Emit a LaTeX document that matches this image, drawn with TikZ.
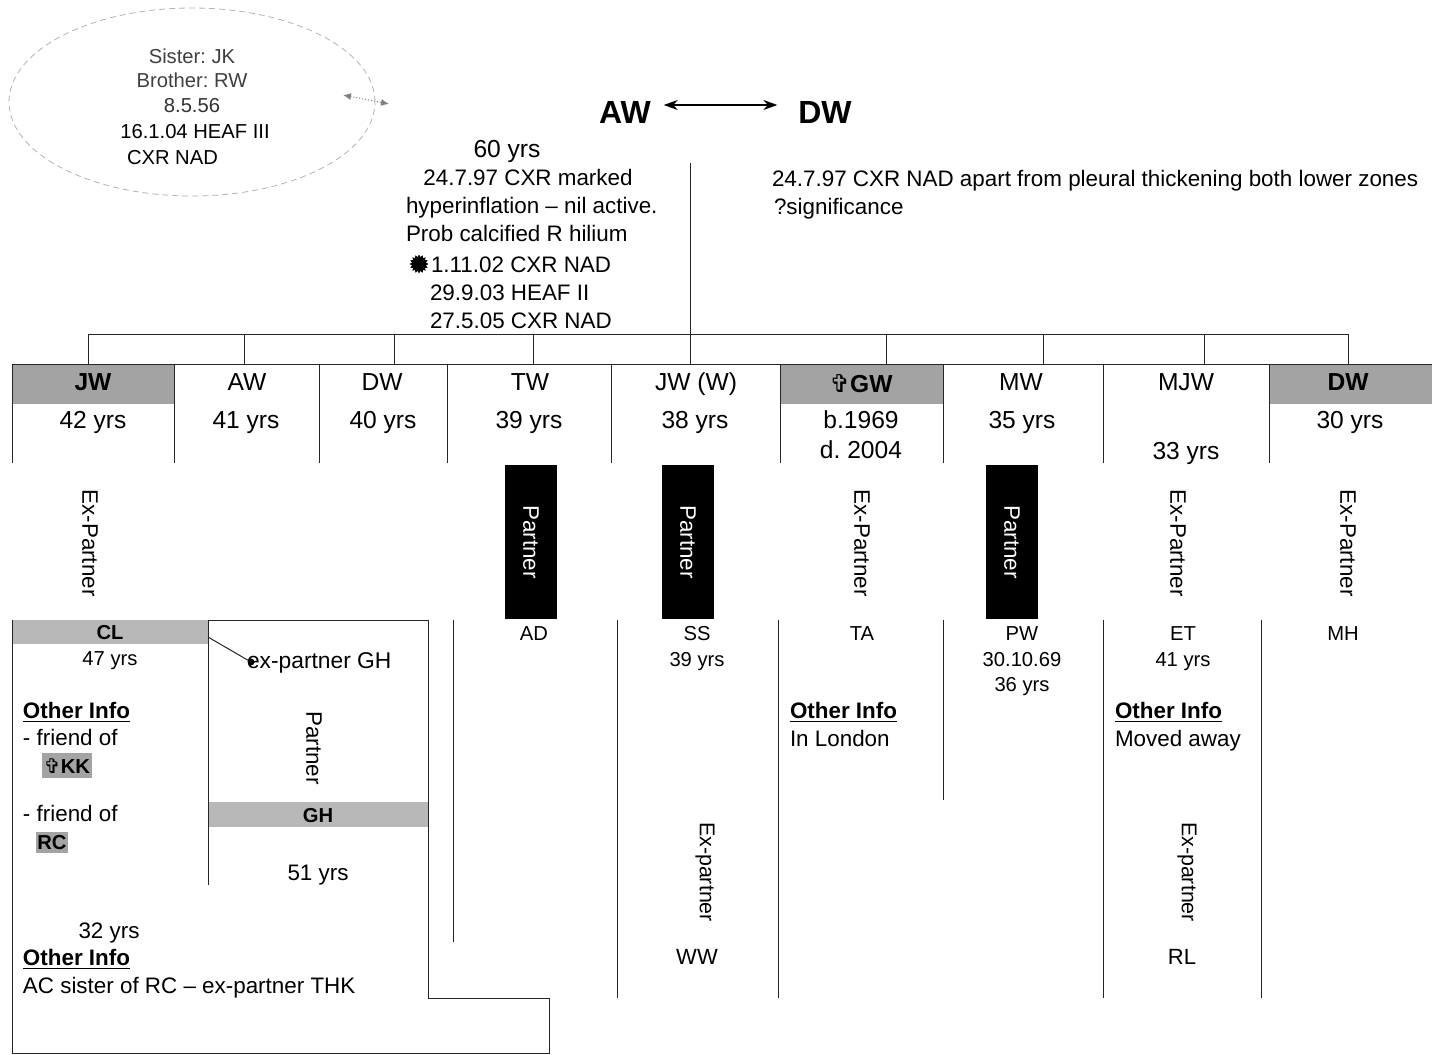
\documentclass[tikz,border=0pt]{standalone}
\usepackage{fontspec}
\setmainfont{Liberation Sans}
\newfontfamily\symfont{DejaVu Sans}
\usetikzlibrary{arrows.meta,shapes.geometric}
\frenchspacing
\newcommand\fHead{\fontsize{12.3}{14}\selectfont}
\newcommand\fBody{\fontsize{11.2}{13}\selectfont}
\newcommand\fSmall{\fontsize{10.1}{12}\selectfont}
\newcommand\fBig{\fontsize{16}{19}\selectfont\bfseries}
\newcommand\gcross{{\symfont\char"271E}}
\definecolor{shadeA}{gray}{0.64}
\definecolor{shadeB}{gray}{0.72}
\definecolor{lncol}{gray}{0.15}
\tikzset{
 every node/.style={inner sep=0pt, outer sep=0pt},
 t/.style={anchor=mid, font=\fBody, yshift=-1.5pt},
 tl/.style={anchor=mid west, font=\fBody, yshift=-1.5pt},
 hd/.style={anchor=mid, font=\fHead, yshift=-1.5pt},
 sm/.style={anchor=mid, font=\fSmall, yshift=-1.2pt},
 vt/.style={rotate=-90, anchor=center, font=\fBody},
 ln/.style={draw=lncol, line width=0.5pt},
 pbox/.style={fill=black, text=white, rotate=-90, minimum width=77pt, minimum height=26pt, font=\fBody},
 oi/.style={anchor=mid west, font=\fBody\bfseries, yshift=-1.5pt},
}
\begin{document}
\frenchspacing
\begin{tikzpicture}[x=0.5pt,y=-0.5pt]
\useasboundingbox (0,0) rectangle (1432,1055);

% ---------- ellipse (parents of AW)
\node[ellipse, draw=gray!60, densely dashed, line width=0.4pt, minimum width=183pt, minimum height=94pt] (ell) at (192,102) {};
\node[sm, text=black!75] (sis) at (192,56) {Sister: JK};
\node[sm, text=black!75] (bro) at (192,80) {Brother: RW};
\node[sm, text=black!80] (dob) at (192,105) {8.5.56};
\node[sm] (heafA) at (195,131) {16.1.04 HEAF III};
\node[sm, anchor=mid west] (cxrA) at (127,157) {CXR NAD};
\coordinate (sa1) at (343,95);
\coordinate (sa2) at (389,104);
\draw[gray, densely dotted, line width=0.5pt, {Latex[length=4pt,width=3.5pt]}-{Latex[length=4pt,width=3.5pt]}] (sa1) -- (sa2);

% ---------- parents
\node[font=\fBig] (AW) at (625,112) {AW};
\node[font=\fBig] (DW) at (825,112) {DW};
\draw[black, line width=0.8pt, {Stealth[length=7pt,width=5pt]}-{Stealth[length=7pt,width=5pt]}, shorten <=6.5pt, shorten >=10.5pt] ([yshift=3.5pt]AW.east) -- ([yshift=3.5pt]DW.west);

\node[font=\fHead, anchor=mid, yshift=-1.5pt] (age60) at (507,149) {60 yrs};
\node[t] (awa) at (528,177) {24.7.97 CXR marked};
\node[tl] (awb) at (406,205) {hyperinflation -- nil active.};
\node[tl] (awc) at (406,233) {Prob calcified R hilium};
\node[star, star points=16, star point ratio=1.35, fill=black, minimum size=9.5pt] (dot) at (419,264) {};
\node[tl] (awd) at (431,264) {1.11.02 CXR NAD};
\node[tl] (awe) at (430,292) {29.9.03 HEAF II};
\node[tl] (awf) at (430,320) {27.5.05 CXR NAD};

\node[tl] (dwa) at (772,178) {24.7.97 CXR NAD apart from pleural thickening both lower zones};
\node[tl] (dwb) at (774,206) {?significance};

% ---------- children row
\fill[shadeA] (12,365) rectangle (174,404);
\fill[shadeA] (780,365) rectangle (943,404);
\fill[shadeA] (1269,365) rectangle (1432,404);

\coordinate (vtop) at (690,163);
\coordinate (barL) at (88,334);
\coordinate (barR) at (1348,334);
\draw[ln] (barL) -- (barR);
\foreach \x/\n in {88/1,244/2,394/3,533/4,690/5,886/6,1043/7,1204/8,1348/9}{
  \coordinate (bar\n) at (\x,334);
  \coordinate (top\n) at (\x,364);
  \draw[ln] (bar\n) -- (top\n);
}
\draw[ln] (vtop) -- (top5);
\draw[ln] (12,364) -- (1432,364);
\foreach \x in {12,174,319,447,611,780,943,1103,1269}{
  \draw[ln] (\x,364) -- (\x,463);
}

\node[hd, font=\fHead\bfseries] (c1) at (93,382) {JW};
\node[hd] (c2) at (247,382) {AW};
\node[hd] (c3) at (382,382) {DW};
\node[hd] (c4) at (530,382) {TW};
\node[hd] (c5) at (696,382) {JW (W)};
\node[hd, font=\fHead\bfseries] (c6) at (861,384) {\gcross GW};
\node[hd] (c7) at (1021,382) {MW};
\node[hd] (c8) at (1186,382) {MJW};
\node[hd, font=\fHead\bfseries] (c9) at (1348,382) {DW};

\node[hd] (a1) at (93,420) {42 yrs};
\node[hd] (a2) at (246,420) {41 yrs};
\node[hd] (a3) at (383,420) {40 yrs};
\node[hd] (a4) at (529,420) {39 yrs};
\node[hd] (a5) at (695,420) {38 yrs};
\node[hd] (a6) at (861,420) {b.1969};
\node[hd] (a6b) at (861,450) {d. 2004};
\node[hd] (a7) at (1022,420) {35 yrs};
\node[hd] (a8) at (1186,451) {33 yrs};
\node[hd] (a9) at (1350,420) {30 yrs};

% ---------- relationship labels
\node[vt] (r1) at (90,543) {Ex-Partner};
\node[pbox] (p4) at (531,542) {Partner};
\node[pbox] (p5) at (688,542) {Partner};
\node[vt] (r6) at (862,543) {Ex-Partner};
\node[pbox] (p7) at (1012,542) {Partner};
\node[vt] (r8) at (1178,543) {Ex-Partner};
\node[vt] (r9) at (1348,543) {Ex-Partner};

% ---------- partners row
\draw[ln] (453,620) -- (453,942);
\draw[ln] (617,620) -- (617,998);
\draw[ln] (778,620) -- (778,998);
\draw[ln] (943,620) -- (943,800);
\draw[ln] (1103,620) -- (1103,998);
\draw[ln] (1261,620) -- (1261,998);

\node[sm] (ad) at (534,633) {AD};
\node[sm] (ss) at (697,633) {SS};
\node[sm] (ssage) at (697,659) {39 yrs};
\node[sm] (ta) at (862,633) {TA};
\node[sm] (pw) at (1022,633) {PW};
\node[sm] (pwd) at (1022,659) {30.10.69};
\node[sm] (pwage) at (1022,684) {36 yrs};
\node[sm] (et) at (1183,633) {ET};
\node[sm] (etage) at (1183,659) {41 yrs};
\node[sm] (mh) at (1343,633) {MH};

\node[oi] (oiTA) at (790,710) {\underline{Other Info}};
\node[tl] (lon) at (790,738) {In London};
\node[oi] (oiET) at (1115,710) {\underline{Other Info}};
\node[tl] (mov) at (1115,738) {Moved away};

\node[vt, font=\fontsize{10.7}{12}\selectfont] (xw) at (705,872) {Ex-partner};
\node[sm, font=\fontsize{11}{13}\selectfont] (ww) at (697,957) {WW};
\node[vt, font=\fontsize{10.7}{12}\selectfont] (xr) at (1187,872) {Ex-partner};
\node[sm, font=\fontsize{11}{13}\selectfont] (rl) at (1182,957) {RL};

% ---------- JW's partners block
\fill[shadeB] (12,620) rectangle (208,644);
\fill[shadeB] (208,802) rectangle (428,827);
\fill[shadeA] (42,753) rectangle (92,778);
\fill[shadeA] (36,832) rectangle (68,853);
\draw[ln] (208,620) -- (428,620) -- (428,998) -- (549,998) -- (549,1053) -- (12,1053) -- (12,620);
\draw[ln] (208,620) -- (208,885);

\node[sm, font=\fSmall\bfseries] (cl) at (110,632) {CL};
\node[sm] (clage) at (110,658) {47 yrs};
\node[oi] (oiCL) at (23,710) {\underline{Other Info}};
\node[tl] (fr1) at (23,737) {- friend of};
\node[anchor=mid, font=\fSmall\bfseries, yshift=-1.2pt] (kk) at (67,766) {\gcross KK};
\node[tl] (fr2) at (23,813) {- friend of};
\node[anchor=mid, font=\fSmall\bfseries, yshift=-1.2pt] (rc) at (52,842) {RC};

\coordinate (clc) at (208,637);
\node[circle, fill=black, minimum size=3.5pt] (gdot) at (251,662) {};
\draw[ln] (clc) -- (gdot);
\node[tl, font=\fontsize{11.4}{13}\selectfont] (exgh) at (247,660) {ex-partner GH};
\node[vt] (pgh) at (314,748) {Partner};
\node[sm, font=\fSmall\bfseries] (gh) at (318,815) {GH};
\node[t] (ghage) at (318,872) {51 yrs};

\node[t] (age32) at (109,930) {32 yrs};
\node[oi] (oiAC) at (23,957) {\underline{Other Info}};
\node[tl] (ac) at (23,985) {AC sister of RC -- ex-partner THK};
\end{tikzpicture}
\end{document}
